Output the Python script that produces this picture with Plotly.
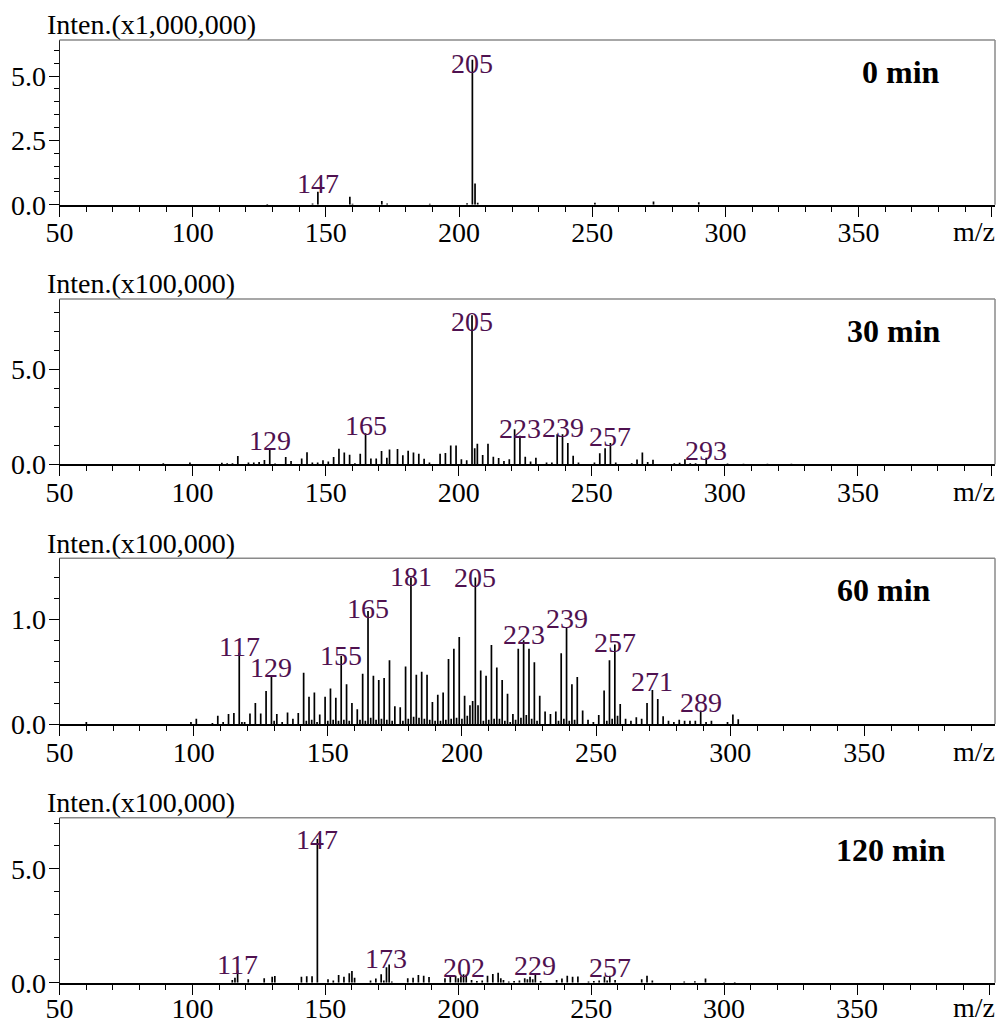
import plotly.graph_objects as go

W, H = 997, 1023

# ---------------- data ----------------
# 0 min  (intensity x1,000,000)
mz_0 = [128, 145, 147, 159, 160, 171, 173, 189, 203, 205, 206, 207, 251, 273, 290]
in_0 = [0.03, 0.05, 0.50, 0.31, 0.04, 0.14, 0.05, 0.04, 0.06, 5.63, 0.82, 0.08, 0.08, 0.12, 0.10]
lab_0 = [147, 205]

# 30 min (intensity x100,000)
mz_30 = [89, 99, 111, 113, 115, 117, 121, 123, 125, 127, 129, 131, 135, 137, 141, 143,
         145, 147, 149, 151, 153, 155, 157, 159, 161, 163, 165, 167, 169, 171, 173, 174,
         177, 179, 181, 183, 185, 187, 189, 193, 195, 197, 199, 201, 203, 205, 206, 207,
         209, 211, 213, 215, 217, 219, 221, 223, 225, 227, 229, 233, 235, 237, 239, 241,
         243, 245, 251, 253, 255, 257, 259, 265, 267, 269, 271, 273, 281, 283, 285, 287,
         289, 293, 301, 307, 316, 325]
in_30 = [0.06, 0.10, 0.08, 0.06, 0.05, 0.44, 0.10, 0.10, 0.12, 0.22, 0.80, 0.04, 0.38, 0.18, 0.30, 0.63,
         0.10, 0.10, 0.21, 0.15, 0.38, 0.82, 0.62, 0.50, 0.05, 0.55, 1.63, 0.30, 0.30, 0.70, 0.34, 0.78,
         0.80, 0.47, 0.71, 0.62, 0.55, 0.29, 0.10, 0.55, 0.60, 0.99, 0.99, 0.27, 0.21, 7.85, 0.84, 1.08,
         0.49, 1.08, 0.40, 0.33, 0.18, 0.27, 1.85, 1.50, 0.40, 0.15, 0.34, 0.10, 0.10, 1.58, 1.58, 1.12,
         0.45, 0.10, 0.10, 0.58, 0.85, 1.12, 0.10, 0.05, 0.25, 0.62, 0.12, 0.24, 0.05, 0.08, 0.27, 0.05,
         0.05, 0.35, 0.04, 0.03, 0.03, 0.03]
lab_30 = [129, 165, 205, 223, 239, 257, 293]

# 60 min (intensity x100,000)
mz_60 = [60, 99, 101, 107, 109, 111, 113, 115, 117, 118, 119, 121, 123, 125, 127, 129, 130, 131,
         133, 135, 137, 139, 141, 142, 143, 144, 145, 146, 147, 149, 150, 151, 152, 153, 154, 155,
         156, 157, 158, 159, 161, 162, 163, 164, 165, 166, 167, 168, 169, 170, 171, 172, 173, 174,
         175, 177, 178, 179, 180, 181, 182, 183, 184, 185, 186, 187, 188, 189, 190, 191, 192, 193,
         194, 195, 196, 197, 198, 199, 200, 201, 202, 203, 204, 205, 206, 207, 208, 209, 210, 211,
         212, 213, 214, 215, 216, 217, 218, 219, 220, 221, 222, 223, 224, 225, 226, 227, 228, 229,
         231, 233, 235, 236, 237, 238, 239, 240, 241, 242, 243, 245, 247, 249, 251, 253, 254, 255,
         256, 257, 258, 259, 261, 263, 265, 267, 269, 271, 273, 275, 277, 279, 281, 283, 285, 287,
         289, 291, 293, 299, 301, 303]
in_60 = [0.02, 0.02, 0.05, 0.01, 0.08, 0.02, 0.095, 0.105, 0.68, 0.02, 0.02, 0.10, 0.20, 0.10, 0.315, 0.46, 0.03, 0.095,
         0.02, 0.11, 0.05, 0.105, 0.49, 0.03, 0.26, 0.04, 0.30, 0.02, 0.09, 0.26, 0.03, 0.34, 0.04, 0.25, 0.03, 0.65,
         0.04, 0.38, 0.03, 0.20, 0.14, 0.04, 0.48, 0.03, 1.08, 0.06, 0.46, 0.04, 0.42, 0.05, 0.44, 0.04, 0.61, 0.03,
         0.17, 0.16, 0.03, 0.55, 0.05, 1.40, 0.07, 0.47, 0.06, 0.50, 0.05, 0.47, 0.04, 0.21, 0.03, 0.28, 0.03, 0.30,
         0.04, 0.62, 0.05, 0.72, 0.06, 0.83, 0.05, 0.27, 0.08, 0.18, 0.22, 1.40, 0.18, 0.51, 0.03, 0.46, 0.04, 0.755,
         0.05, 0.54, 0.05, 0.42, 0.03, 0.29, 0.02, 0.095, 0.04, 0.72, 0.06, 0.80, 0.085, 0.72, 0.05, 0.59, 0.03, 0.27,
         0.12, 0.095, 0.12, 0.03, 0.675, 0.05, 0.92, 0.03, 0.38, 0.04, 0.45, 0.13, 0.04, 0.02, 0.085, 0.32, 0.03, 0.61,
         0.05, 0.76, 0.08, 0.19, 0.05, 0.03, 0.065, 0.05, 0.20, 0.325, 0.24, 0.075, 0.03, 0.02, 0.04, 0.03, 0.03, 0.03,
         0.13, 0.02, 0.03, 0.02, 0.09, 0.045]
lab_60 = [117, 129, 155, 165, 181, 205, 223, 239, 257, 271, 289]

# 120 min (intensity x100,000)
mz_120 = [115, 116, 117, 121, 127, 130, 131, 141, 143, 145, 147, 151, 153, 155, 157, 159, 160, 161,
          167, 169, 171, 172, 173, 174, 175, 181, 183, 185, 187, 189, 195, 197, 199, 200, 201, 202,
          203, 205, 207, 209, 211, 213, 215, 216, 217, 219, 221, 223, 225, 226, 227, 228, 229, 231,
          237, 239, 241, 243, 245, 249, 251, 253, 255, 256, 257, 259, 269, 271, 273, 285, 289, 293,
          300, 304]
in_120 = [0.12, 0.22, 0.55, 0.15, 0.19, 0.26, 0.29, 0.26, 0.28, 0.28, 6.30, 0.15, 0.10, 0.34, 0.26, 0.41, 0.51, 0.22,
          0.10, 0.18, 0.37, 0.10, 0.68, 0.80, 0.05, 0.20, 0.22, 0.34, 0.31, 0.25, 0.20, 0.28, 0.30, 0.20, 0.28, 0.37,
          0.35, 0.12, 0.08, 0.10, 0.31, 0.38, 0.44, 0.20, 0.12, 0.05, 0.08, 0.10, 0.20, 0.15, 0.26, 0.15, 0.38, 0.08,
          0.12, 0.18, 0.30, 0.26, 0.27, 0.05, 0.07, 0.10, 0.27, 0.10, 0.30, 0.12, 0.15, 0.30, 0.10, 0.05, 0.06, 0.18,
          0.03, 0.03]
lab_120 = [117, 147, 173, 202, 229, 257]

panel_names = ["0 min", "30 min", "60 min", "120 min"]
scale_texts = ["Inten.(x1,000,000)", "Inten.(x100,000)", "Inten.(x100,000)", "Inten.(x100,000)"]
x_tick_vals = [50, 100, 150, 200, 250, 300, 350, 400]
x_tick_text = ["50", "100", "150", "200", "250", "300", "350", ""]

# ---------------- style / layout ----------------
SERIF = "Liberation Serif, Times New Roman, serif"
LABEL_COLOR = "#4f1150"
FS = 28

top_px = [40, 299, 558.3, 817.7]
bot_px = [204.7, 464.3, 724, 982.7]
x_max = [401.2, 401.5, 398.7, 401.9]
y_max = [6.4, 8.7, 1.583, 7.24]
y_dtick = [2.5, 5, 1, 5]
y_minor = [0.5, 1, 0.2, 1]
name_right_px = [942, 943, 933, 948]
x_standoff = [-8, -8, -8, -10]
left_px, right_px = 59.5, 995

# per-label vertical nudges (px, label centre above peak top)
DEFAULT_SHIFT = 8
label_shift = [
    {205: -4, 147: 8},
    {205: -6, 129: 9, 165: 8, 223: 7, 239: 7, 257: 7, 293: 7},
    {181: 1, 165: 2, 155: 0, 205: 0, 257: 2, 117: 6, 223: 6, 129: 8, 239: 9, 271: 8, 289: 8},
    {147: 0, 117: 6, 173: 9, 202: 7, 229: 9, 257: 8},
]

series = [(mz_0, in_0, lab_0), (mz_30, in_30, lab_30), (mz_60, in_60, lab_60), (mz_120, in_120, lab_120)]

fig = go.Figure()
annotations = []
shapes = []
layout = dict(
    width=W, height=H,
    margin=dict(l=0, r=0, t=0, b=0, autoexpand=False),
    paper_bgcolor="white", plot_bgcolor="white",
    showlegend=False,
)

for i, (mz, inten, labs) in enumerate(series):
    k = "" if i == 0 else str(i + 1)
    xa, ya = "x" + k, "y" + k
    xs, ys = [], []
    for m, v in zip(mz, inten):
        xs += [m, m, None]
        ys += [0, v, None]
    fig.add_trace(go.Scatter(x=xs, y=ys, mode="lines", line=dict(color="black", width=1.7),
                             xaxis=xa, yaxis=ya, hoverinfo="skip", showlegend=False))

    ydom = [1 - bot_px[i] / H, 1 - top_px[i] / H]
    xdom = [left_px / W, right_px / W]
    layout["xaxis" + k] = dict(
        domain=xdom, anchor=ya, range=[50, x_max[i]], automargin=False,
        tickmode="array", tickvals=x_tick_vals, ticktext=x_tick_text,
        ticks="outside", ticklen=10, tickwidth=1, tickcolor="black",
        ticklabelstandoff=x_standoff[i],
        minor=dict(tickmode="linear", tick0=50, dtick=10, ticks="outside", ticklen=5,
                   tickwidth=1, tickcolor="black", showgrid=False),
        showline=True, linecolor="black", linewidth=2,
        showgrid=False, zeroline=False,
        tickfont=dict(family=SERIF, size=FS, color="black"),
        fixedrange=True,
    )
    layout["yaxis" + k] = dict(
        domain=ydom, anchor=xa, range=[0, y_max[i]], automargin=False,
        tickmode="linear", tick0=0, dtick=y_dtick[i], tickformat=".1f",
        ticks="outside", ticklen=10, tickwidth=1, tickcolor="black",
        ticklabelstandoff=-3,
        minor=dict(tickmode="linear", tick0=0, dtick=y_minor[i], ticks="outside", ticklen=5,
                   tickwidth=1, tickcolor="black", showgrid=False),
        showline=True, linecolor="#222222", linewidth=1,
        showgrid=False, zeroline=False,
        tickfont=dict(family=SERIF, size=FS, color="black"),
        fixedrange=True,
    )

    # top & right frame (grey)
    shapes.append(dict(type="line", xref=xa + " domain", yref=ya + " domain",
                       x0=0, x1=1, y0=1, y1=1, line=dict(color="#8a8a8a", width=1.5)))
    shapes.append(dict(type="line", xref=xa + " domain", yref=ya + " domain",
                       x0=1, x1=1, y0=0, y1=1, line=dict(color="#8a8a8a", width=1.5)))

    # peak labels
    lookup = dict(zip(mz, inten))
    for m in labs:
        annotations.append(dict(
            x=m, y=lookup[m], xref=xa, yref=ya, text=str(m), showarrow=False,
            xanchor="center", yanchor="middle", yshift=label_shift[i].get(m, DEFAULT_SHIFT),
            font=dict(family=SERIF, size=FS, color=LABEL_COLOR),
        ))

    # intensity scale text
    annotations.append(dict(
        x=45 / W, xref="paper", xanchor="left", y=1, yref=ya + " domain", yanchor="middle",
        yshift=15, text=scale_texts[i], showarrow=False,
        font=dict(family=SERIF, size=FS, color="black"),
    ))
    # time label
    annotations.append(dict(
        x=(name_right_px[i] - left_px) / (right_px - left_px), xref=xa + " domain", xanchor="right",
        y=1, yref=ya + " domain", yanchor="middle", yshift=-32,
        text="<b>" + panel_names[i] + "</b>", showarrow=False,
        font=dict(family=SERIF, size=32, color="black"),
    ))
    # m/z axis text
    annotations.append(dict(
        x=997 / W, xref="paper", xanchor="right", y=0, yref=ya + " domain", yanchor="middle",
        yshift=-27 if i < 3 else -25, text="m/z", showarrow=False,
        font=dict(family=SERIF, size=FS, color="black"),
    ))

layout["annotations"] = annotations
layout["shapes"] = shapes
fig.update_layout(**layout)

fig.write_html("out.html", config={"displayModeBar": False},
               post_script="document.body.style.margin='0';document.body.style.overflow='hidden';")
